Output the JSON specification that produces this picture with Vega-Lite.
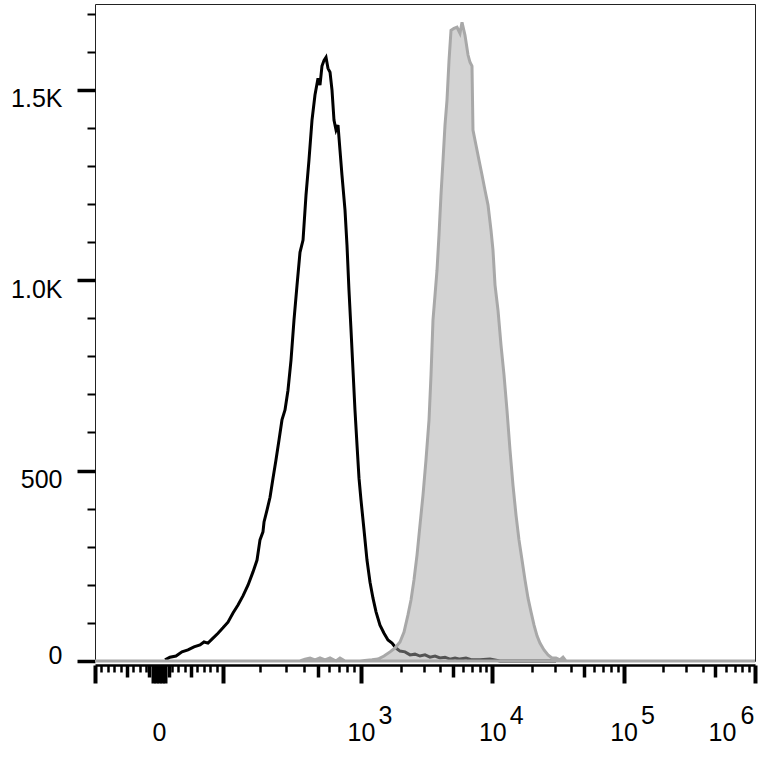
{
  "$schema": "https://vega.github.io/schema/vega-lite/v6.json",
  "width": 660,
  "height": 657,
  "autosize": {"type": "none"},
  "padding": {"left": 95, "top": 4, "right": 8, "bottom": 96},
  "background": "white",
  "config": {
    "view": {"stroke": "#222", "strokeWidth": 1},
    "axis": {"labelFont": "Liberation Sans", "labelFontSize": 25, "labelColor": "black", "tickColor": "black", "domainColor": "black", "grid": false, "title": null}
  },
  "datasets": {
    "black": [
      {"ch": 106.1, "n": 3}, {"ch": 113.6, "n": 10}, {"ch": 122.7, "n": 13}, {"ch": 131.8, "n": 24}, {"ch": 140.9, "n": 29},
      {"ch": 150.0, "n": 37}, {"ch": 159.1, "n": 42}, {"ch": 165.2, "n": 50}, {"ch": 171.2, "n": 47}, {"ch": 178.8, "n": 60},
      {"ch": 186.4, "n": 73}, {"ch": 193.9, "n": 87}, {"ch": 201.5, "n": 102}, {"ch": 209.1, "n": 126}, {"ch": 216.7, "n": 147},
      {"ch": 224.2, "n": 171}, {"ch": 231.8, "n": 199}, {"ch": 239.4, "n": 234}, {"ch": 245.5, "n": 265}, {"ch": 250.0, "n": 318},
      {"ch": 254.5, "n": 339}, {"ch": 256.1, "n": 365}, {"ch": 260.6, "n": 396}, {"ch": 265.2, "n": 430}, {"ch": 269.7, "n": 480},
      {"ch": 274.2, "n": 528}, {"ch": 278.8, "n": 580}, {"ch": 283.3, "n": 633}, {"ch": 287.9, "n": 659}, {"ch": 292.4, "n": 711},
      {"ch": 297.0, "n": 790}, {"ch": 301.5, "n": 895}, {"ch": 306.1, "n": 987}, {"ch": 310.6, "n": 1073}, {"ch": 315.2, "n": 1105},
      {"ch": 319.7, "n": 1223}, {"ch": 324.2, "n": 1315}, {"ch": 328.8, "n": 1420}, {"ch": 333.3, "n": 1486}, {"ch": 337.9, "n": 1530},
      {"ch": 340.9, "n": 1512}, {"ch": 343.9, "n": 1562}, {"ch": 347.0, "n": 1577}, {"ch": 350.0, "n": 1585}, {"ch": 353.0, "n": 1556},
      {"ch": 356.1, "n": 1546}, {"ch": 359.1, "n": 1499}, {"ch": 362.1, "n": 1420}, {"ch": 365.2, "n": 1394}, {"ch": 368.2, "n": 1407},
      {"ch": 371.2, "n": 1341}, {"ch": 374.2, "n": 1276}, {"ch": 378.8, "n": 1184}, {"ch": 381.8, "n": 1092}, {"ch": 384.8, "n": 974},
      {"ch": 387.9, "n": 869}, {"ch": 390.9, "n": 764}, {"ch": 393.9, "n": 659}, {"ch": 397.0, "n": 567}, {"ch": 400.0, "n": 480},
      {"ch": 403.0, "n": 423}, {"ch": 407.6, "n": 344}, {"ch": 412.1, "n": 265}, {"ch": 416.7, "n": 207}, {"ch": 421.2, "n": 165},
      {"ch": 425.8, "n": 129}, {"ch": 431.8, "n": 94}, {"ch": 437.9, "n": 73}, {"ch": 443.9, "n": 55}, {"ch": 450.0, "n": 47},
      {"ch": 456.1, "n": 34}, {"ch": 462.1, "n": 26}, {"ch": 469.7, "n": 24}, {"ch": 477.3, "n": 16}, {"ch": 484.8, "n": 18},
      {"ch": 492.4, "n": 13}, {"ch": 500.0, "n": 16}, {"ch": 507.6, "n": 10}, {"ch": 515.2, "n": 13}, {"ch": 522.7, "n": 8},
      {"ch": 530.3, "n": 10}, {"ch": 537.9, "n": 5}, {"ch": 545.5, "n": 8}, {"ch": 553.0, "n": 5}, {"ch": 562.1, "n": 8},
      {"ch": 571.2, "n": 3}, {"ch": 583.3, "n": 3}, {"ch": 598.5, "n": 5}, {"ch": 613.6, "n": 0}, {"ch": 643.9, "n": 0},
      {"ch": 674.2, "n": 0}, {"ch": 698.5, "n": 0}
    ],
    "gray": [
      {"ch": 0, "n": 0}, {"ch": 159.1, "n": 0}, {"ch": 310.6, "n": 0}, {"ch": 318.2, "n": 5}, {"ch": 325.8, "n": 8},
      {"ch": 333.3, "n": 3}, {"ch": 340.9, "n": 8}, {"ch": 348.5, "n": 3}, {"ch": 356.1, "n": 8}, {"ch": 365.2, "n": 0},
      {"ch": 371.2, "n": 8}, {"ch": 378.8, "n": 0}, {"ch": 401.5, "n": 0}, {"ch": 419.7, "n": 3}, {"ch": 428.8, "n": 5},
      {"ch": 437.9, "n": 13}, {"ch": 447.0, "n": 24}, {"ch": 454.5, "n": 34}, {"ch": 462.1, "n": 50}, {"ch": 468.2, "n": 76},
      {"ch": 474.2, "n": 121}, {"ch": 478.8, "n": 160}, {"ch": 483.3, "n": 213}, {"ch": 487.9, "n": 278}, {"ch": 492.4, "n": 357},
      {"ch": 497.0, "n": 436}, {"ch": 501.5, "n": 528}, {"ch": 506.1, "n": 633}, {"ch": 509.1, "n": 751}, {"ch": 512.1, "n": 895},
      {"ch": 515.2, "n": 961}, {"ch": 518.2, "n": 1026}, {"ch": 521.2, "n": 1118}, {"ch": 524.2, "n": 1223}, {"ch": 527.3, "n": 1315},
      {"ch": 530.3, "n": 1407}, {"ch": 533.3, "n": 1472}, {"ch": 536.4, "n": 1577}, {"ch": 539.4, "n": 1656}, {"ch": 543.9, "n": 1661},
      {"ch": 548.5, "n": 1664}, {"ch": 553.0, "n": 1648}, {"ch": 556.1, "n": 1677}, {"ch": 560.6, "n": 1643}, {"ch": 565.2, "n": 1591},
      {"ch": 568.2, "n": 1572}, {"ch": 571.2, "n": 1562}, {"ch": 572.7, "n": 1394}, {"ch": 577.3, "n": 1354}, {"ch": 581.8, "n": 1315},
      {"ch": 586.4, "n": 1276}, {"ch": 590.9, "n": 1236}, {"ch": 595.5, "n": 1197}, {"ch": 600.0, "n": 1131}, {"ch": 603.0, "n": 1079},
      {"ch": 606.1, "n": 987}, {"ch": 610.6, "n": 921}, {"ch": 615.2, "n": 829}, {"ch": 619.7, "n": 751}, {"ch": 624.2, "n": 659},
      {"ch": 628.8, "n": 554}, {"ch": 633.3, "n": 462}, {"ch": 637.9, "n": 383}, {"ch": 642.4, "n": 318}, {"ch": 647.0, "n": 265},
      {"ch": 651.5, "n": 213}, {"ch": 656.1, "n": 165}, {"ch": 660.6, "n": 129}, {"ch": 665.2, "n": 94}, {"ch": 669.7, "n": 66},
      {"ch": 674.2, "n": 47}, {"ch": 680.3, "n": 29}, {"ch": 686.4, "n": 16}, {"ch": 692.4, "n": 8}, {"ch": 698.5, "n": 8},
      {"ch": 704.5, "n": 3}, {"ch": 709.1, "n": 10}, {"ch": 713.6, "n": 0}, {"ch": 765.2, "n": 0}, {"ch": 1000, "n": 0}
    ]
  },
  "resolve": {"axis": {"x": "independent"}},
  "layer": [
    {
      "data": {"name": "black"},
      "mark": {"type": "line", "color": "black", "strokeWidth": 3, "interpolate": "linear"},
      "encoding": {
        "x": {
          "field": "ch", "type": "quantitative",
          "scale": {"domain": [0, 1000], "nice": false, "zero": false},
          "axis": {
            "orient": "bottom",
            "offset": 4,
            "domainWidth": 2.5,
            "values": [0, 9.7, 19.4, 29.1, 38.8, 48.5, 58.2, 67.9, 77.6, 82.4, 87.3, 92.1, 97, 101.8, 106.7, 111.5, 116.4, 126.1, 135.8, 145.5, 155.2, 164.8, 174.5, 184.2, 193.9, 250.5, 288.9, 316.2, 337.3, 354.6, 369.2, 381.9, 393, 403, 462.9, 497.9, 522.8, 542.1, 557.8, 571.2, 582.7, 592.9, 602, 661.9, 696.9, 721.7, 741, 756.8, 770.1, 781.6, 791.8, 800.9, 860.8, 895.8, 920.7, 939.9, 955.7, 969, 980.6, 990.7, 1000],
            "tickSize": {"condition": [{"test": "indexof([0,87.3,92.1,97,101.8,106.7,193.9,403,602,800.9,1000], datum.value) >= 0", "value": 18}, {"test": "indexof([48.5,82.4,111.5,145.5,337.3,542.1,741,939.9], datum.value) >= 0", "value": 12}], "value": 7},
            "tickWidth": {"condition": [{"test": "indexof([0,87.3,92.1,97,101.8,106.7,193.9,403,602,800.9,1000], datum.value) >= 0", "value": 4}, {"test": "indexof([48.5,82.4,111.5,145.5,337.3,542.1,741,939.9], datum.value) >= 0", "value": 3.5}], "value": 2.5},
            "labelExpr": "datum.value === 97 ? '0' : (indexof([403,602,800.9,1000], datum.value) >= 0 ? '10' : '')",
            "labelOffset": {"condition": {"test": "datum.value === 1000", "value": -33}, "value": 0},
            "labelPadding": 37,
            "labelBaseline": "top",
            "labelAlign": "center",
            "labelOverlap": false,
            "labelFlush": false,
            "labelBound": false
          }
        },
        "y": {
          "field": "n", "type": "quantitative",
          "scale": {"domain": [0, 1725], "nice": false},
          "axis": {
            "values": [0, 100, 200, 300, 400, 500, 600, 700, 800, 900, 1000, 1100, 1200, 1300, 1400, 1500, 1600, 1700],
            "domain": false,
            "tickSize": {"condition": {"test": "datum.value % 500 === 0", "value": 18}, "value": 8},
            "tickWidth": {"condition": {"test": "datum.value % 500 === 0", "value": 3.5}, "value": 2},
            "labelExpr": "datum.value === 0 ? '0' : datum.value === 500 ? '500' : datum.value === 1000 ? '1.0K' : datum.value === 1500 ? '1.5K' : ''",
            "labelOffset": {"condition": {"test": "datum.value === 0", "value": -6}, "value": 9},
            "labelPadding": 15,
            "labelBaseline": "middle",
            "labelOverlap": false,
            "labelFlush": false,
            "labelBound": false
          }
        }
      }
    },
    {
      "data": {"name": "gray"},
      "mark": {"type": "area", "color": "#a8a8a8", "fillOpacity": 0.5, "stroke": "#a8a8a8", "strokeWidth": 3, "strokeOpacity": 1, "interpolate": "linear"},
      "encoding": {
        "x": {
          "field": "ch", "type": "quantitative",
          "scale": {"domain": [0, 1000], "nice": false, "zero": false},
          "axis": {
            "orient": "bottom",
            "offset": 4,
            "domain": false,
            "ticks": false,
            "values": [403, 602, 800.9, 1000],
            "labelExpr": "datum.value < 500 ? '3' : datum.value < 700 ? '4' : datum.value < 900 ? '5' : '6'",
            "labelOffset": {"condition": {"test": "datum.value === 1000", "value": -15}, "value": 17},
            "labelAlign": "left",
            "labelBaseline": "top",
            "labelPadding": 38,
            "labelOverlap": false,
            "labelFlush": false,
            "labelBound": false
          }
        },
        "y": {
          "field": "n", "type": "quantitative",
          "scale": {"domain": [0, 1725], "nice": false},
          "axis": {
            "values": [0, 100, 200, 300, 400, 500, 600, 700, 800, 900, 1000, 1100, 1200, 1300, 1400, 1500, 1600, 1700],
            "domain": false,
            "tickSize": {"condition": {"test": "datum.value % 500 === 0", "value": 18}, "value": 8},
            "tickWidth": {"condition": {"test": "datum.value % 500 === 0", "value": 3.5}, "value": 2},
            "labelExpr": "datum.value === 0 ? '0' : datum.value === 500 ? '500' : datum.value === 1000 ? '1.0K' : datum.value === 1500 ? '1.5K' : ''",
            "labelOffset": {"condition": {"test": "datum.value === 0", "value": -6}, "value": 9},
            "labelPadding": 15,
            "labelBaseline": "middle",
            "labelOverlap": false,
            "labelFlush": false,
            "labelBound": false
          }
        }
      }
    }
  ]
}
